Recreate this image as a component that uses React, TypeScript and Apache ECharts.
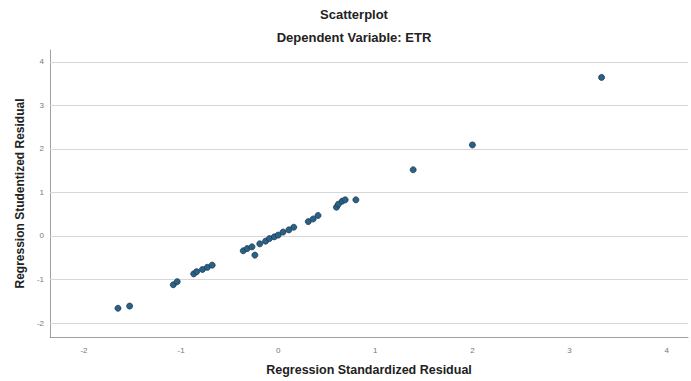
import React, { useEffect, useRef } from "react";
import * as echarts from "echarts";

const titleText = "Scatterplot";
const subtitleText = "Dependent Variable: ETR";
const xAxisName = "Regression Standardized Residual";
const yAxisName = "Regression Studentized Residual";

const xValues = [
  -1.65, -1.53, -1.08, -1.04, -0.87, -0.84, -0.78, -0.73, -0.68, -0.36, -0.32,
  -0.27, -0.24, -0.19, -0.13, -0.09, -0.04, 0.0, 0.05, 0.11, 0.16, 0.31, 0.36,
  0.41, 0.6, 0.62, 0.66, 0.69, 0.8, 1.39, 2.0, 3.33,
];
const yValues = [
  -1.66, -1.61, -1.12, -1.05, -0.87, -0.82, -0.77, -0.72, -0.67, -0.34, -0.29,
  -0.25, -0.44, -0.18, -0.12, -0.06, -0.02, 0.02, 0.09, 0.14, 0.2, 0.33, 0.39,
  0.47, 0.66, 0.73, 0.8, 0.83, 0.83, 1.52, 2.09, 3.64,
];
const yGridTicks = [-2, -1, 0, 1, 2, 3, 4];

export default function App() {
  const ref = useRef<HTMLDivElement>(null);
  useEffect(() => {
    if (!ref.current) return;
    document.body.style.margin = "0";
    document.body.style.overflow = "hidden";
    const chart = echarts.init(ref.current, null, { renderer: "svg" });
    const points = xValues.map((x, i) => [x, yValues[i]]);
    const intLabel = (v: number) =>
      Math.abs(v - Math.round(v)) < 1e-9 ? String(Math.round(v)) : "";
    chart.setOption({
      animation: false,
      backgroundColor: "#ffffff",
      textStyle: { fontFamily: "Liberation Sans, Arial, sans-serif" },
      graphic: [
        {
          type: "text",
          x: 354,
          y: 14,
          style: {
            text: titleText,
            fontSize: 13,
            fontWeight: "bold",
            fill: "#222",
            align: "center",
            verticalAlign: "middle",
            fontFamily: "Liberation Sans, Arial, sans-serif",
          },
        },
        {
          type: "text",
          x: 354,
          y: 37,
          style: {
            text: subtitleText,
            fontSize: 13,
            fontWeight: "bold",
            fill: "#222",
            align: "center",
            verticalAlign: "middle",
            fontFamily: "Liberation Sans, Arial, sans-serif",
          },
        },
      ],
      grid: { left: 50, right: 2, top: 50, bottom: 41, containLabel: false },
      xAxis: {
        type: "value",
        min: -2.35,
        max: 4.22,
        name: xAxisName,
        nameLocation: "middle",
        nameGap: 26,
        nameTextStyle: { fontSize: 12.5, fontWeight: "bold", color: "#222" },
        axisLine: {
          show: true,
          onZero: false,
          lineStyle: { color: "#a0a0a0", width: 1 },
        },
        axisTick: { show: false },
        splitLine: { show: false },
        axisLabel: {
          formatter: intLabel,
          fontSize: 8,
          color: "#777",
          margin: 9,
        },
      },
      yAxis: {
        type: "value",
        min: -2.32,
        max: 4.27,
        name: yAxisName,
        nameLocation: "middle",
        nameGap: 24,
        nameTextStyle: { fontSize: 12, fontWeight: "bold", color: "#222" },
        axisLine: {
          show: true,
          onZero: false,
          lineStyle: { color: "#a0a0a0", width: 1 },
        },
        axisTick: { show: false },
        splitLine: { show: false },
        axisLabel: {
          formatter: intLabel,
          fontSize: 8,
          color: "#777",
          margin: 6,
        },
      },
      series: [
        {
          type: "scatter",
          data: points,
          symbol: "circle",
          symbolSize: 6,
          itemStyle: {
            color: "#2a6186",
            borderColor: "#1b3a52",
            borderWidth: 0.8,
            opacity: 1,
          },
          markLine: {
            silent: true,
            symbol: ["none", "none"],
            label: { show: false },
            lineStyle: { color: "#d6d6d6", type: "solid", width: 1.2 },
            data: yGridTicks.map((v) => ({ yAxis: v })),
            z: 1,
          },
          z: 5,
        },
      ],
    });
    return () => chart.dispose();
  }, []);
  return (
    <div
      ref={ref}
      style={{ position: "absolute", left: 0, top: 0, width: 691, height: 381 }}
    />
  );
}
